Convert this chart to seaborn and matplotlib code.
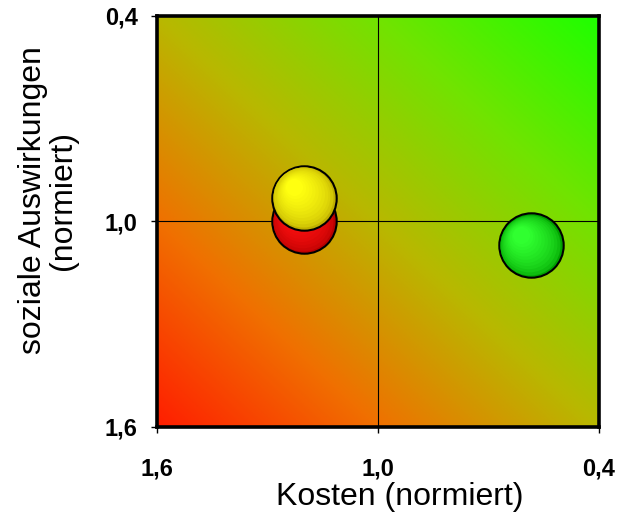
import numpy as np
import seaborn as sns
import matplotlib.pyplot as plt
from matplotlib.colors import LinearSegmentedColormap, to_rgb
from matplotlib.transforms import ScaledTranslation

# Daten
kosten = [1.20, 1.20, 0.585]
sozial = [1.00, 0.93, 1.07]
farben_dunkel = ["#b80000", "#c0b000", "#00a000"]
farben_hell = ["#ff1010", "#ffff10", "#30ff30"]
ticks = [1.6, 1.0, 0.4]
tick_labels = ["1,6", "1,0", "0,4"]

sns.set_style("white")
plt.rcParams['font.family'] = ['Liberation Sans', 'DejaVu Sans']
plt.rcParams['text.color'] = 'black'
plt.rcParams['axes.labelcolor'] = 'black'
plt.rcParams['xtick.color'] = 'black'
plt.rcParams['ytick.color'] = 'black'

fig = plt.figure(figsize=(6.19, 5.17), dpi=100)
ax = fig.add_axes([0.2536, 0.1741, 0.7141, 0.795])

# Hintergrund-Verlauf (rot unten links -> grün oben rechts)
cmap = LinearSegmentedColormap.from_list(
    "rg", ["#ff1e00", "#f07000", "#b8b800", "#70e400", "#1eff00"])
u, v = np.meshgrid(np.linspace(0, 1, 300), np.linspace(0, 1, 300))
ax.imshow((u + v) / 2, cmap=cmap, extent=[0, 1, 0, 1], origin="lower",
          transform=ax.transAxes, aspect="auto", zorder=0)

ax.set_xlim(1.6, 0.4)
ax.set_ylim(1.6, 0.4)
ax.axvline(1.0, color="black", lw=0.8, zorder=1)
ax.axhline(1.0, color="black", lw=0.8, zorder=1)

# Blasen mit Kugel-Schattierung
size = 2150
n = 12
for i in range(len(kosten)):
    dark = np.array(to_rgb(farben_dunkel[i]))
    light = np.array(to_rgb(farben_hell[i]))
    sns.scatterplot(x=[kosten[i]], y=[sozial[i]], s=size, color=farben_dunkel[i],
                    edgecolor="black", linewidth=1.5, ax=ax, zorder=3 + i * 0.1,
                    legend=False)
    for k in range(1, n):
        f = 1 - k / n * 0.8
        off = (1 - f) * 0.14
        c = dark + (light - dark) * (k / (n - 1)) ** 0.5
        tr = ax.transData + ScaledTranslation(-off, off, fig.dpi_scale_trans)
        ax.scatter([kosten[i]], [sozial[i]], s=size * f * f, color=c,
                   linewidth=0, transform=tr, zorder=3 + i * 0.1 + k * 0.001)

ax.set_xticks(ticks)
ax.set_xticklabels(tick_labels, fontweight="bold", fontsize=17)
ax.set_yticks(ticks)
ax.set_yticklabels(tick_labels, fontweight="bold", fontsize=17)
ax.tick_params(axis="x", length=4, width=1, pad=18, bottom=True)
ax.tick_params(axis="y", length=4, width=1, pad=10, left=True)

for sp in ax.spines.values():
    sp.set_linewidth(2.6)
    sp.set_color("black")
    sp.set_zorder(5)

ax.set_xlabel("Kosten (normiert)", fontsize=23, va="center")
ax.set_ylabel("soziale Auswirkungen\n(normiert)", fontsize=23, va="center",
              linespacing=1.0)
ax.xaxis.set_label_coords(0.55, -0.17)
ax.yaxis.set_label_coords(-0.247, 0.552)

fig.savefig("out.png", dpi=100)
